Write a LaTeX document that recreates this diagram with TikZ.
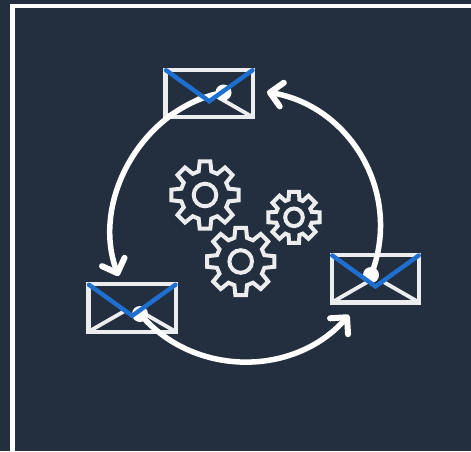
\documentclass[tikz,border=0pt]{standalone}
\usetikzlibrary{arrows.meta,calc}
\definecolor{bgnavy}{HTML}{232F3E}
\definecolor{envgrey}{HTML}{EBEDEE}
\definecolor{envblue}{HTML}{1F6FD0}
\tikzset{
  envbox/.style={draw=envgrey,line width=4.2pt,minimum width=87.5pt,minimum height=47.5pt,inner sep=0pt,outer sep=0pt},
  envline/.style={draw=envgrey,line width=3.8pt},
  flap/.style={draw=envblue,line width=4.4pt,line cap=round,line join=miter},
  flow/.style={draw=white,line width=5.5pt,-{Straight Barb[length=12pt,width=24pt,round,line width=6pt]}},
  dot/.style={circle,fill=white,minimum size=16pt,inner sep=0pt,outer sep=0pt},
  gearline/.style={draw=envgrey,line width=4pt,line join=miter},
  frameline/.style={draw=white,line width=4.5pt}
}
% envelope lower flaps
\newcommand{\envlower}[1]{
  \coordinate (#1apex) at ($(#1.south)+(0,16)$);
  \draw[envline] (#1.south west) -- ($(#1apex)+(-8,4.5)$);
  \draw[envline] (#1.south east) -- ($(#1apex)+(8,4.5)$);
}
\newcommand{\envflap}[1]{
  \draw[flap] ($(#1.north west)+(0.5,-0.5)$) -- (#1apex) -- ($(#1.north east)+(-0.5,-0.5)$);
}
% gear: centre x, centre y, outer r, root r, tip half-angle, root half-angle, hub r
\newcommand{\gearshape}[7]{
  \begin{scope}[shift={(#1,#2)}]
    \draw[gearline] (-#5:#3)
      \foreach \a in {0,45,...,315}{
        -- (\a-#5:#3) -- (\a+#5:#3) -- (\a+#6:#4) -- (\a+45-#6:#4)
      } -- cycle;
    \draw[gearline] (0,0) circle (#7);
  \end{scope}
}
\begin{document}
\begin{tikzpicture}[x=1pt,y=1pt]
\useasboundingbox (0,0) rectangle (471,451);
\fill[bgnavy] (0,0) rectangle (471,451);
\coordinate (frameA) at (12.5,0);
\coordinate (frameB) at (12.5,445);
\coordinate (frameC) at (471,445);
\draw[frameline] (frameA) -- (frameB) -- (frameC);

\gearshape{205}{256}{34}{24.5}{9}{15}{11.3}
\gearshape{240.7}{189.5}{34}{24.5}{9}{15}{11.3}
\gearshape{294}{233.7}{26}{18.5}{11}{17}{8.8}

\node[envbox] (envTop) at (209.25,357.5) {};
\node[envbox] (envLeft) at (132.2,143) {};
\node[envbox] (envRight) at (375.5,172.3) {};
\envlower{envTop}
\envlower{envLeft}
\envlower{envRight}

\node[dot] (dotTop) at (223.5,358.5) {};
\node[dot] (dotLeft) at (140,137) {};
\node[dot] (dotRight) at (371,176) {};
\coordinate (tipLeft) at (118.5,175);
\coordinate (tipRight) at (349,136);
\coordinate (tipTop) at (267,359);

\draw[flow] (dotTop.center) to[out=190,in=110.4,distance=81pt] (tipLeft);
\draw[flow] (dotLeft.center) to[out=310.3,in=228.5,distance=83pt] (tipRight);
\draw[flow] (dotRight.center) to[out=68.4,in=-9.8,distance=86pt] (tipTop);

\envflap{envTop}
\envflap{envLeft}
\envflap{envRight}
\end{tikzpicture}
\end{document}
